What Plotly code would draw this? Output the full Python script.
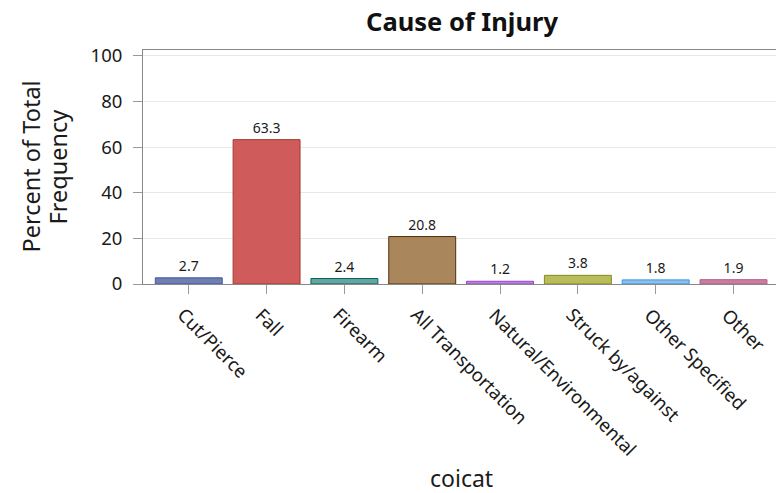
import plotly.graph_objects as go

categories = ["Cut/Pierce", "Fall", "Firearm", "All Transportation",
              "Natural/Environmental", "Struck by/against", "Other Specified", "Other"]
percent = [2.7, 63.3, 2.4, 20.8, 1.2, 3.8, 1.8, 1.9]
fill_colors = ["#6F7EB3", "#D05B5B", "#66A5A0", "#A9865B",
               "#B689CD", "#BABC5C", "#94BDE1", "#CD7BA1"]
line_colors = ["#445694", "#A23A2E", "#01665E", "#543005",
               "#9D3CDB", "#7F8E1F", "#2597FA", "#B26084"]
y_ticks = [0, 20, 40, 60, 80, 100]

FONT = "Noto Sans"
TXT = "#1a1a1a"
W, H = 776, 493
L, R, T, B = 143, 0, 50, 209
PW, PH = W - L - R, H - T - B

fig = go.Figure(go.Bar(
    x=categories, y=percent,
    marker=dict(color=fill_colors, line=dict(color=line_colors, width=1)),
    text=[f"{v:.1f}" for v in percent], textposition="outside",
    textfont=dict(family=FONT, size=14, color=TXT),
    cliponaxis=False,
))

# rotated category labels (anchored on the category axis)
for c in categories:
    fig.add_annotation(
        x=c, xref="x", y=0, yref="y", text=c, showarrow=False,
        textangle=45, xanchor="left", yanchor="top",
        xshift=-19, yshift=-15.5,
        font=dict(family=FONT, size=18.5, color=TXT),
    )

# x-axis title
fig.add_annotation(
    x=(461.5 - L) / PW, xref="paper", y=-(477.5 - (T + PH)) / PH, yref="paper",
    text="coicat", showarrow=False, xanchor="center", yanchor="middle",
    font=dict(family=FONT, size=23, color=TXT),
)
# y-axis title (two lines)
for txt, cx in [("Percent of Total", 30.5), ("Frequency", 57.5)]:
    fig.add_annotation(
        x=-(L - cx) / PW, xref="paper", y=0.5, yref="paper",
        text=txt, showarrow=False, textangle=-90,
        xanchor="center", yanchor="middle",
        font=dict(family=FONT, size=23.5, color=TXT),
    )

fig.update_layout(
    width=W, height=H,
    margin=dict(l=L, r=R, t=T, b=B, autoexpand=False),
    paper_bgcolor="white", plot_bgcolor="white",
    bargap=0.14,
    showlegend=False,
    title=dict(text="<b>Cause of Injury</b>", x=(462 - L) / PW, xref="paper", xanchor="center",
               y=1 - 22 / H, yref="container", yanchor="middle",
               font=dict(family=FONT, size=25.5, color="#111")),
    font=dict(family=FONT, color=TXT),
)

fig.update_xaxes(
    type="category", range=[-0.588, 7.546], automargin=False,
    showticklabels=False,
    ticks="outside", ticklen=9, tickcolor="#999", tickwidth=1,
    showline=True, linecolor="#888", linewidth=1, mirror=True,
    showgrid=False,
)

fig.update_yaxes(
    range=[0, 102.6], tickvals=y_ticks, automargin=False,
    tickfont=dict(family=FONT, size=18.5, color=TXT),
    ticks="outside", ticklen=9, tickcolor="#999", tickwidth=1,
    ticklabelstandoff=7,
    showline=True, linecolor="#888", linewidth=1,
    showgrid=True, gridcolor="#E8E8E8", gridwidth=1, zeroline=False,
)

fig.write_html(
    "out.html",
    config={"displayModeBar": False},
    post_script="document.body.style.margin='0';document.body.style.overflow='hidden';",
)
